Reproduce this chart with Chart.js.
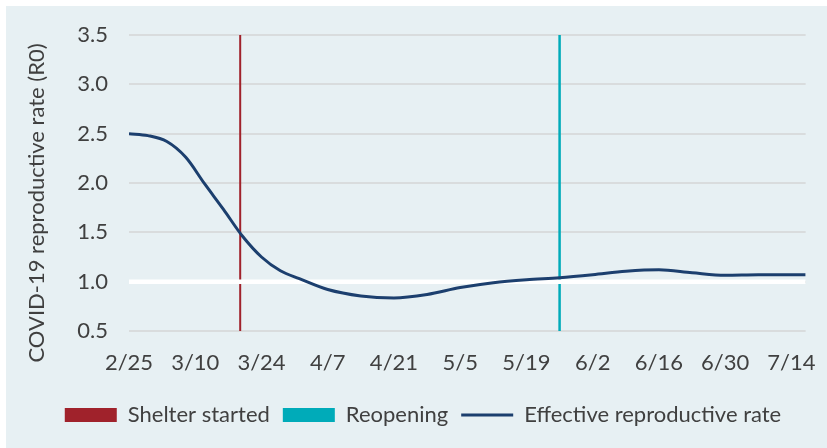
<!DOCTYPE html>
<html>
<head>
<meta charset="utf-8">
<script src="https://cdn.jsdelivr.net/npm/chart.js@4"></script>
<style>
  html, body { margin: 0; padding: 0; background: #fff; }
  #wrap { position: absolute; left: 6px; top: 6px; width: 821px; height: 442px; background: #e7f0f3; }
</style>
</head>
<body>
<div id="wrap"><canvas id="chart" width="821" height="442"></canvas></div>
<script>
// days since 2/25
const tickDays = [0, 14, 28, 42, 56, 70, 84, 98, 112, 126, 140];
const tickLabels = ['2/25', '3/10', '3/24', '4/7', '4/21', '5/5', '5/19', '6/2', '6/16', '6/30', '7/14'];

const pointDays = [0, 4, 8, 12, 16, 20, 24, 28, 32, 36, 42, 49, 56, 63, 70, 77, 84, 91, 98, 105, 112, 119, 126, 133, 140, 143];
const rValues   = [2.50, 2.48, 2.42, 2.26, 1.99, 1.73, 1.46, 1.25, 1.11, 1.03, 0.92, 0.855, 0.835, 0.87, 0.94, 0.99, 1.02, 1.04, 1.07, 1.105, 1.12, 1.09, 1.065, 1.07, 1.07, 1.07];

const shelterDay = 23.5;
const reopenDay = 91;
const baseline = 1.0;

const yTitle = 'COVID-19 reproductive rate (R0)';

const FONT = 'Lato';
const FSIZE = 22;
const TEXT = '#404040';
const RED = '#a0222b';
const TEAL = '#00abb9';
const NAVY = '#1c3f6e';

const xMin = 0, xMax = 143, yMin = 0.5, yMax = 3.5;

// y-axis title sits a bit below the plot centre in the original, so draw it by hand
const yTitlePlugin = {
  id: 'yTitle',
  afterDraw(chart) {
    const c = chart.ctx;
    c.save();
    c.translate(31, 197);
    c.rotate(-Math.PI / 2);
    c.font = FSIZE + 'px ' + FONT;
    c.fillStyle = TEXT;
    c.textAlign = 'center';
    c.textBaseline = 'middle';
    c.fillText(yTitle, 0, 0);
    c.restore();
  }
};

const ctx = document.getElementById('chart').getContext('2d');
new Chart(ctx, {
  type: 'line',
  plugins: [yTitlePlugin],
  data: {
    datasets: [
      {
        label: 'Effective reproductive rate',
        data: pointDays.map((d, i) => ({x: d, y: rValues[i]})),
        borderColor: NAVY,
        borderWidth: 3,
        pointRadius: 0,
        cubicInterpolationMode: 'monotone',
        order: 0
      },
      {
        label: 'baseline',
        data: [{x: xMin, y: baseline}, {x: xMax, y: baseline}],
        borderColor: '#ffffff',
        borderWidth: 4.5,
        pointRadius: 0,
        order: 1
      },
      {
        label: 'Shelter started',
        data: [{x: shelterDay, y: yMin}, {x: shelterDay, y: yMax}],
        borderColor: RED,
        borderWidth: 2,
        pointRadius: 0,
        order: 2
      },
      {
        label: 'Reopening',
        data: [{x: reopenDay, y: yMin}, {x: reopenDay, y: yMax}],
        borderColor: TEAL,
        borderWidth: 2.5,
        pointRadius: 0,
        order: 3
      }
    ]
  },
  options: {
    responsive: false,
    animation: false,
    layout: { padding: { top: 29, right: 21, left: 34, bottom: 12 } },
    plugins: {
      tooltip: { enabled: false },
      legend: {
        position: 'bottom',
        labels: {
          font: { family: FONT, size: FSIZE },
          color: TEXT,
          usePointStyle: true,
          pointStyleWidth: 52,
          boxHeight: 14,
          padding: 13,
          generateLabels: () => [
            { text: 'Shelter started', pointStyle: 'rect', fillStyle: RED, strokeStyle: RED, lineWidth: 0, fontColor: TEXT },
            { text: 'Reopening', pointStyle: 'rect', fillStyle: TEAL, strokeStyle: TEAL, lineWidth: 0, fontColor: TEXT },
            { text: 'Effective reproductive rate', pointStyle: 'line', fillStyle: NAVY, strokeStyle: NAVY, lineWidth: 3, fontColor: TEXT }
          ]
        }
      }
    },
    scales: {
      x: {
        type: 'linear',
        min: xMin,
        max: xMax,
        afterBuildTicks: s => { s.ticks = tickDays.map(v => ({value: v})); },
        afterFit: s => { s.height = 60; },
        grid: { display: false },
        border: { display: false },
        ticks: {
          font: { family: FONT, size: FSIZE },
          color: TEXT,
          padding: 11,
          maxRotation: 0,
          autoSkip: false,
          callback: v => tickLabels[tickDays.indexOf(v)]
        }
      },
      y: {
        min: yMin,
        max: yMax,
        afterFit: s => { s.width = 89; s.paddingTop = 0; s.paddingBottom = 0; },
        grid: { color: '#d9dcdd', lineWidth: 2, drawTicks: false },
        border: { display: false },
        ticks: {
          stepSize: 0.5,
          font: { family: FONT, size: FSIZE },
          color: TEXT,
          padding: 21,
          callback: v => v.toFixed(1)
        }
      }
    }
  }
});
</script>
</body>
</html>
